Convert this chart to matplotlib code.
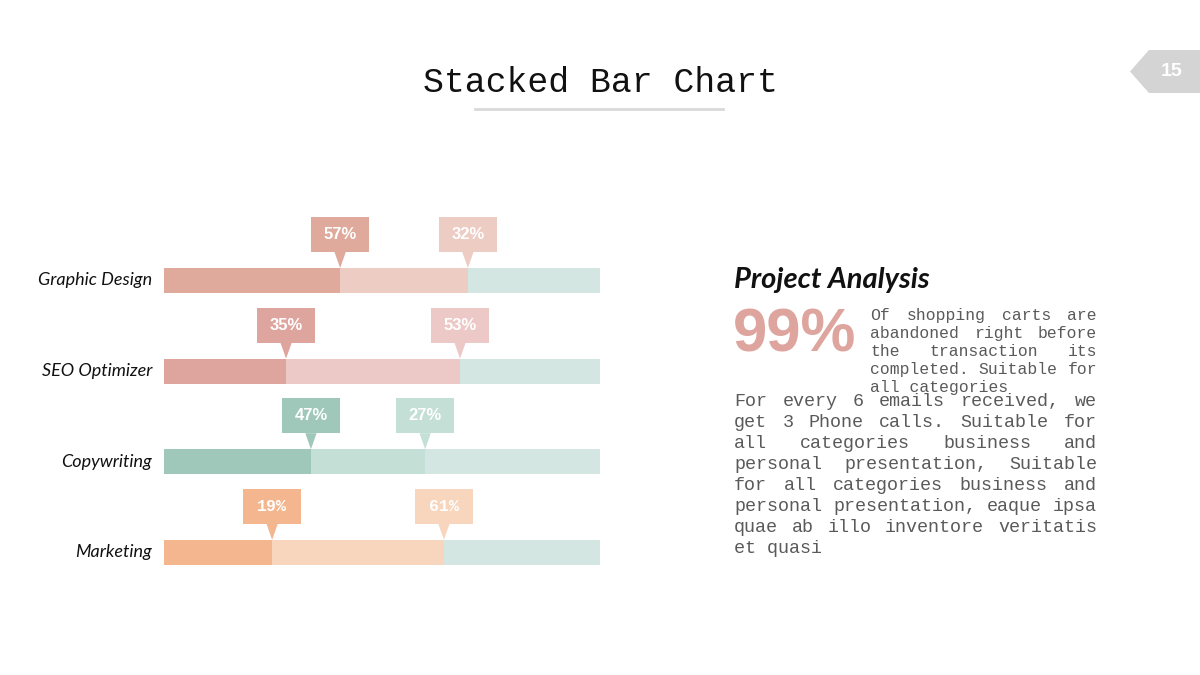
import matplotlib.pyplot as plt
from matplotlib.patches import Polygon, Rectangle

# --- data ---
categories = ["Graphic Design", "SEO Optimizer", "Copywriting", "Marketing"]
seg_first = [40.4, 28.0, 33.7, 24.8]
seg_second = [29.3, 39.9, 26.2, 39.4]
seg_rest = [30.3, 32.1, 40.1, 35.8]
label_first = ["57%", "35%", "47%", "19%"]
label_second = ["32%", "53%", "27%", "61%"]

colors_first = ["#dfaa9b", "#dea59f", "#9fc8ba", "#f3b68e"]
colors_second = ["#edccc4", "#ecc9c6", "#c4dfd6", "#f8d5bd"]
color_rest = "#d3e6e1"
label_fonts = ["Liberation Sans", "Liberation Sans", "Liberation Sans", "Liberation Mono"]

summary_lines = ["Of shopping carts are", "abandoned right before", "the transaction its",
                 "completed. Suitable for", "all categories"]
body_lines = ["For every 6 emails received, we", "get 3 Phone calls. Suitable for",
              "all categories business and", "personal presentation, Suitable",
              "for all categories business and", "personal presentation, eaque ipsa",
              "quae ab illo inventore veritatis", "et quasi"]

W, H = 1200, 675
fig = plt.figure(figsize=(12, 6.75), dpi=100)
fig.patch.set_facecolor("white")


def fx(x):
    return x / W


def fy(y):
    return 1 - y / H


# --- bar chart ---
row_px = 90.6
top_units, bottom_units = 1.2, 3.5
ax_top = 280.5 - top_units * row_px
ax_bot = 280.5 + bottom_units * row_px
ax = fig.add_axes([fx(164), fy(ax_bot), 436 / W, (ax_bot - ax_top) / H])
ax.set_xlim(0, 100)
ax.set_ylim(bottom_units, -top_units)
ax.axis("off")

ypos = list(range(len(categories)))
bar_h = 25 / row_px
left2 = [a for a in seg_first]
left3 = [a + b for a, b in zip(seg_first, seg_second)]
ax.barh(ypos, seg_first, height=bar_h, color=colors_first, linewidth=0)
ax.barh(ypos, seg_second, left=left2, height=bar_h, color=colors_second, linewidth=0)
ax.barh(ypos, seg_rest, left=left3, height=bar_h, color=color_rest, linewidth=0)

# callouts
box_w = 58 / 436 * 100
box_h = 35 / row_px
ptr_h = 16 / row_px
ptr_hw = 1.3
for i, y in enumerate(ypos):
    bar_top = y - bar_h / 2
    for xend, txt, col in [(left2[i], label_first[i], colors_first[i]),
                           (left3[i], label_second[i], colors_second[i])]:
        base = bar_top - ptr_h
        ax.add_patch(Rectangle((xend - box_w / 2, base - box_h), box_w, box_h,
                               facecolor=col, edgecolor="none"))
        ax.add_patch(Polygon([(xend - ptr_hw, base), (xend + ptr_hw, base), (xend, bar_top)],
                             closed=True, facecolor=col, edgecolor="none"))
        ax.text(xend, base - box_h / 2, txt, ha="center", va="center", color="white",
                fontsize=12, fontweight="bold", family=label_fonts[i])
    ax.text(-2.75, y, categories[i], ha="right", va="center", fontsize=13,
            color="#111111", family="Lato", style="italic")

# --- title ---
fig.text(fx(600), fy(83), "Stacked Bar Chart", ha="center", va="center",
         fontsize=25, family="Liberation Mono", color="#111111")
fig.add_artist(plt.Line2D([fx(475), fx(723)], [fy(109), fy(109)], color="#d9d9d9", lw=2))

# --- page badge ---
fig.add_artist(Polygon([(fx(1130), fy(71.5)), (fx(1149), fy(50)), (fx(1200), fy(50)),
                        (fx(1200), fy(93)), (fx(1149), fy(93))], closed=True,
                       facecolor="#d4d4d4", edgecolor="none", transform=fig.transFigure))
fig.text(fx(1172), fy(71), "15", ha="center", va="center", color="white",
         fontsize=14, fontweight="bold", family="Liberation Sans")

# --- right panel ---
fig.text(fx(734), fy(288), "Project Analysis", ha="left", va="baseline", fontsize=21,
         fontweight="bold", style="italic", family="Lato", color="#111111")
fig.text(fx(733), fy(352), "99%", ha="left", va="baseline", fontsize=44.5,
         fontweight="bold", family="Liberation Sans", color="#dea59f")


def justified(lines, x0, x1, y0, dy, fs):
    cw = 0.6 * fs * 100 / 72
    for i, line in enumerate(lines):
        words = line.split()
        y = y0 + i * dy
        if i == len(lines) - 1 or len(words) == 1:
            fig.text(fx(x0), fy(y), line, ha="left", va="baseline", fontsize=fs,
                     family="Liberation Mono", color="#5a5a5a")
            continue
        total = sum(len(w) for w in words) * cw
        gap = (x1 - x0 - total) / (len(words) - 1)
        x = x0
        for w in words:
            fig.text(fx(x), fy(y), w, ha="left", va="baseline", fontsize=fs,
                     family="Liberation Mono", color="#5a5a5a")
            x += len(w) * cw + gap


justified(summary_lines, 870, 1097, 320, 18, 11.8)
justified(body_lines, 734, 1097, 406, 21, 13.2)

fig.savefig("out.png", dpi=100, facecolor="white")
